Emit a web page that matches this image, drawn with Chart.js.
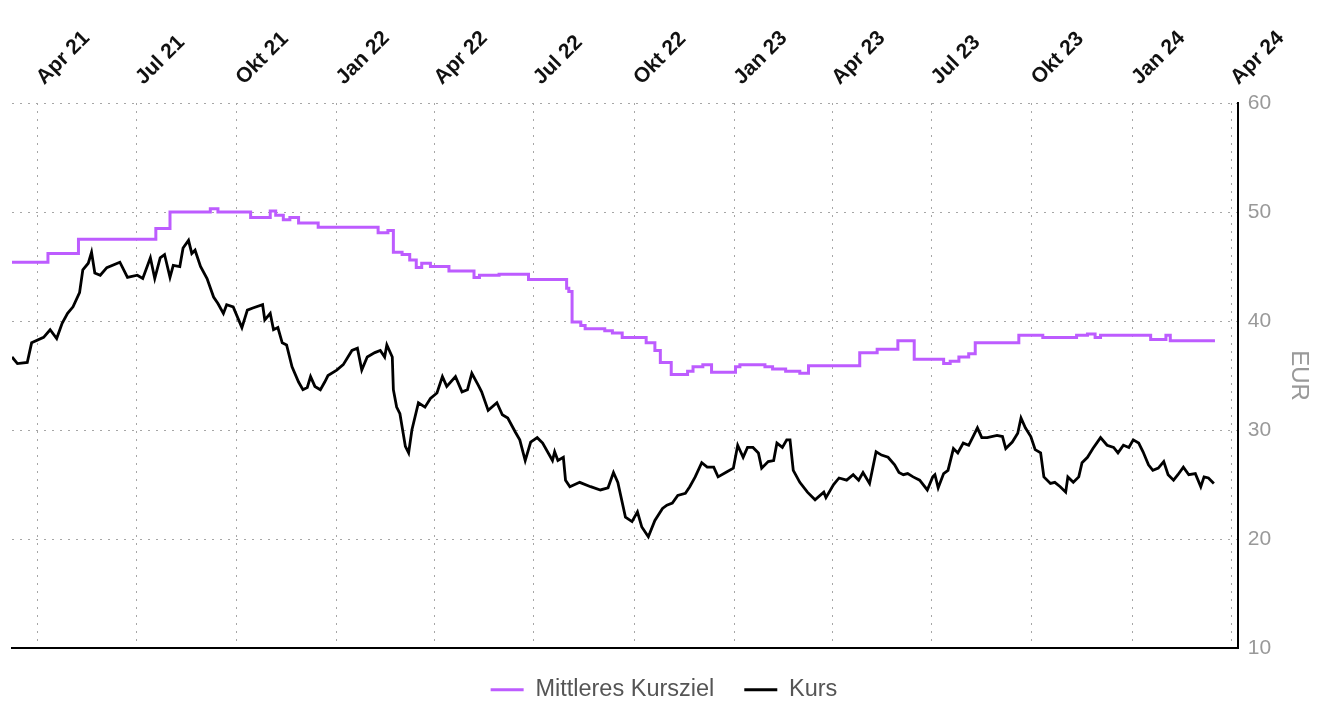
<!DOCTYPE html>
<html>
<head>
<meta charset="utf-8">
<script src="https://cdn.jsdelivr.net/npm/chart.js@4/dist/chart.umd.min.js"></script>
<style>
  html, body { margin: 0; padding: 0; background: #fff; }
  #wrap { width: 1318px; height: 702px; }
</style>
</head>
<body>
<div id="wrap"><canvas id="chart" width="1318" height="702"></canvas></div>
<script>
// Data (x = days since 1 Jan 2021)
const tickDays = [90, 181, 273, 365, 455, 546, 638, 730, 820, 911, 1003, 1095, 1186];
const tickLabels = ['Apr 21', 'Jul 21', 'Okt 21', 'Jan 22', 'Apr 22', 'Jul 22', 'Okt 22',
                    'Jan 23', 'Apr 23', 'Jul 23', 'Okt 23', 'Jan 24', 'Apr 24'];

const zielDays = [67, 100, 128, 199, 212, 249, 256, 286, 304, 309, 316, 322, 330, 348, 403, 412, 417, 425,
                  432, 438, 443, 451, 468, 491, 496, 514, 541, 576, 578, 581, 589, 593, 611, 618, 627, 649,
                  657, 662, 672, 687, 692, 701, 709, 731, 735, 758, 765, 777, 790, 798, 845, 861, 880, 895,
                  922, 928, 936, 945, 951, 991, 1013, 1044, 1054, 1061, 1066, 1112, 1126, 1130, 1171];
const zielValues = [45.4, 46.2, 47.5, 48.5, 50.0, 50.3, 50.0, 49.5, 50.1, 49.7, 49.3, 49.5, 49.0, 48.6, 48.1, 48.3, 46.3, 46.1,
                    45.6, 44.9, 45.3, 45.0, 44.6, 44.0, 44.2, 44.3, 43.8, 43.0, 42.7, 39.9, 39.6, 39.3, 39.1, 38.9, 38.5, 38.0,
                    37.3, 36.2, 35.1, 35.4, 35.8, 36.0, 35.3, 35.8, 36.0, 35.8, 35.6, 35.4, 35.2, 35.9, 37.1, 37.4, 38.2, 36.5,
                    36.1, 36.3, 36.7, 37.0, 38.0, 38.7, 38.5, 38.7, 38.8, 38.5, 38.7, 38.3, 38.7, 38.2, 38.2];

const kursDays = [
  67, 72, 81, 85, 96, 102, 108, 113, 118, 123,
  129, 132, 137, 140, 143, 148, 154, 166, 173, 182,
  187, 194, 198, 203, 207, 212, 215, 221, 224, 229,
  232, 235, 240, 246, 252, 256, 261, 264, 270, 278,
  283, 288, 297, 299, 304, 307, 311, 315, 319, 324,
  330, 334, 338, 341, 345, 350, 354, 357, 365, 371,
  379, 384, 388, 393, 400, 405, 409, 411, 416, 417,
  420, 423, 428, 431, 434, 440, 446, 451, 457, 462,
  466, 474, 480, 485, 489, 495, 498, 504, 512, 517,
  522, 529, 533, 538, 543, 549, 554, 563, 565, 568,
  573, 575, 579, 588, 598, 607, 614, 619, 623, 630,
  636, 641, 645, 651, 657, 664, 668, 673, 678, 685,
  689, 694, 700, 705, 711, 715, 722, 729, 733, 738,
  742, 747, 752, 755, 761, 766, 769, 774, 778, 781,
  784, 790, 797, 804, 812, 814, 821, 826, 833, 839,
  844, 848, 854, 860, 865, 871, 877, 881, 885, 889,
  894, 900, 907, 912, 914, 917, 922, 926, 931, 935,
  940, 945, 949, 953, 957, 962, 971, 976, 979, 985,
  990, 993, 997, 1002, 1006, 1011, 1014, 1020, 1024, 1029,
  1034, 1036, 1041, 1046, 1049, 1054, 1059, 1066, 1072, 1078,
  1082, 1087, 1092, 1096, 1101, 1105, 1110, 1114, 1119, 1124,
  1128, 1133, 1137, 1142, 1147, 1153, 1158, 1161, 1165, 1170
];
const kursValues = [
  36.7, 36.1, 36.2, 38.0, 38.5, 39.2, 38.4, 39.8, 40.7, 41.3,
  42.6, 44.7, 45.3, 46.3, 44.4, 44.2, 44.9, 45.4, 44.0, 44.2,
  43.9, 45.8, 43.9, 45.8, 46.1, 44.0, 45.1, 45.0, 46.7, 47.4,
  46.2, 46.5, 45.0, 43.9, 42.2, 41.6, 40.7, 41.5, 41.3, 39.4,
  41.0, 41.2, 41.5, 40.1, 40.7, 39.2, 39.4, 38.0, 37.8, 35.8,
  34.4, 33.7, 33.9, 34.9, 34.0, 33.7, 34.4, 35.0, 35.5, 36.0,
  37.3, 37.5, 35.5, 36.7, 37.1, 37.3, 36.7, 37.8, 36.7, 33.7,
  32.1, 31.5, 28.5, 27.9, 30.0, 32.5, 32.1, 32.9, 33.4, 34.9,
  34.0, 34.9, 33.5, 33.7, 35.2, 34.1, 33.5, 31.8, 32.5, 31.4,
  31.1, 29.8, 29.1, 27.2, 28.9, 29.3, 28.8, 27.2, 28.0, 27.2,
  27.5, 25.4, 24.8, 25.2, 24.8, 24.5, 24.7, 26.1, 25.2, 22.0,
  21.6, 22.5, 21.1, 20.2, 21.7, 22.8, 23.1, 23.3, 24.0, 24.2,
  24.8, 25.7, 27.0, 26.6, 26.6, 25.7, 26.1, 26.5, 28.6, 27.5,
  28.4, 28.4, 27.9, 26.5, 27.1, 27.2, 28.8, 28.4, 29.1, 29.1,
  26.3, 25.2, 24.3, 23.6, 24.3, 23.8, 25.0, 25.6, 25.4, 25.9,
  25.4, 26.1, 25.1, 28.0, 27.7, 27.5, 26.8, 26.1, 25.9, 26.0,
  25.7, 25.4, 24.5, 25.7, 25.9, 24.7, 26.0, 26.3, 28.3, 27.9,
  28.8, 28.6, 29.4, 30.2, 29.3, 29.3, 29.5, 29.4, 28.3, 28.9,
  29.7, 31.1, 30.2, 29.4, 28.2, 27.9, 25.7, 25.1, 25.2, 24.8,
  24.3, 25.7, 25.2, 25.7, 27.0, 27.5, 28.3, 29.3, 28.6, 28.4,
  27.9, 28.6, 28.4, 29.1, 28.8, 28.0, 26.8, 26.3, 26.5, 27.1,
  25.9, 25.4, 25.9, 26.6, 25.9, 26.0, 24.8, 25.7, 25.6, 25.1
];

const FONT = "'Liberation Sans', Arial, sans-serif";
const gridColor = '#a6a6a6';
const purple = '#bd5cff';

function toPoints(days, values) {
    return days.map((d, i) => ({ x: d, y: values[i] }));
}

const ctx = document.getElementById('chart').getContext('2d');

new Chart(ctx, {
    type: 'line',
    data: {
        datasets: [
            {
                label: 'Mittleres Kursziel',
                data: toPoints(zielDays, zielValues),
                borderColor: purple,
                backgroundColor: purple,
                borderWidth: 3,
                stepped: 'before',
                pointRadius: 0,
                fill: false
            },
            {
                label: 'Kurs',
                data: toPoints(kursDays, kursValues),
                borderColor: '#000',
                backgroundColor: '#000',
                borderWidth: 2.8,
                tension: 0,
                pointRadius: 0,
                fill: false
            }
        ]
    },
    options: {
        responsive: false,
        animation: false,
        layout: { padding: { left: 12, top: 13, right: 2, bottom: 0 } },
        plugins: {
            legend: {
                position: 'bottom',
                maxHeight: 54,
                labels: {
                    usePointStyle: true,
                    pointStyle: 'line',
                    pointStyleWidth: 33,
                    font: { family: FONT, size: 23.5 },
                    color: '#555',
                    padding: 30
                }
            },
            tooltip: { enabled: false }
        },
        scales: {
            x: {
                type: 'linear',
                position: 'top',
                min: 67,
                max: 1192,
                afterBuildTicks: axis => {
                    axis.ticks = tickDays.map(v => ({ value: v }));
                },
                ticks: {
                    autoSkip: false,
                    minRotation: 45,
                    maxRotation: 45,
                    padding: 13,
                    labelOffset: 21,
                    color: '#111',
                    font: { family: FONT, size: 21, weight: 'bold' },
                    callback: (value, index) => tickLabels[index]
                },
                grid: { color: gridColor, drawTicks: false },
                border: { display: false, dash: [2, 6] }
            },
            xBottom: {
                type: 'linear',
                position: 'bottom',
                min: 0,
                max: 1,
                ticks: { display: false },
                grid: { display: false, drawTicks: false },
                border: { display: true, color: '#000', width: 2 }
            },
            y: {
                position: 'right',
                min: 10,
                max: 60,
                ticks: {
                    stepSize: 10,
                    padding: 10,
                    color: '#999',
                    font: { family: FONT, size: 21 }
                },
                grid: { color: gridColor, drawTicks: false },
                border: { display: true, color: '#000', width: 2, dash: [2, 6] },
                title: {
                    display: true,
                    text: 'EUR',
                    color: '#999',
                    font: { family: FONT, size: 24 },
                    padding: { top: 3, bottom: 3 }
                }
            }
        }
    }
});
</script>
</body>
</html>
